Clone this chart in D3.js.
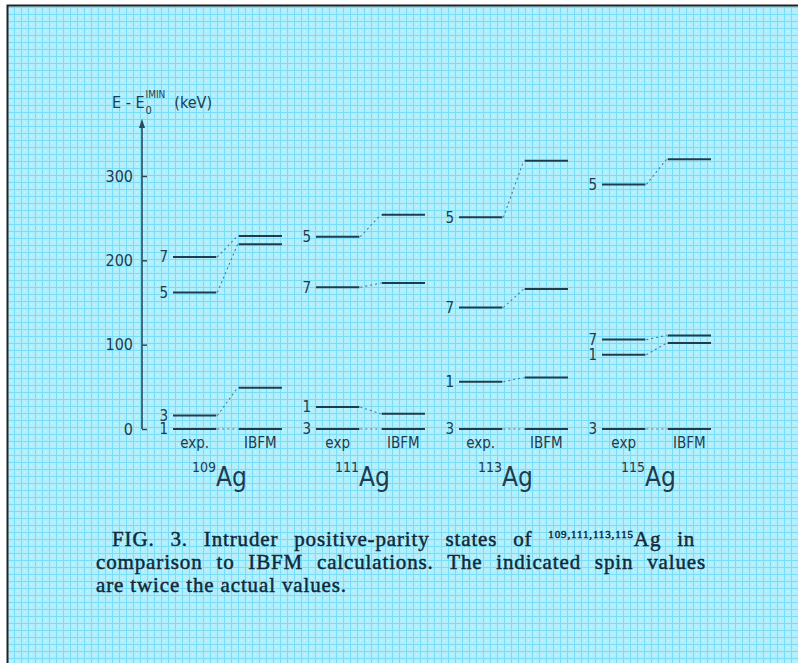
<!DOCTYPE html>
<html>
<head>
<meta charset="utf-8">
<script src="https://cdn.jsdelivr.net/npm/d3@7"></script>
<style>
  html, body { margin: 0; padding: 0; background: #fff; }
  svg { display: block; }
  .lbl { font-family: "DejaVu Sans Condensed", "Liberation Sans Narrow", "DejaVu Sans", sans-serif; fill: #1d3d4e; }
  .cap { font-family: "Liberation Serif", "DejaVu Serif", serif; fill: #10293a; stroke: #10293a; stroke-width: 0.45; }
</style>
</head>
<body>
<svg width="798" height="663"></svg>
<script>
// energies (keV), order of spins below
let isotopes = ["109", "111", "113", "115"];
let spins = [1, 3, 5, 7];
let exp109 = [0, 16, 162, 204];
let ibfm109 = [0, 49, 219, 229];
let exp111 = [26, 0, 228, 168];
let ibfm111 = [18, 0, 254, 173];
let exp113 = [56, 0, 251, 144];
let ibfm113 = [61, 0, 318, 166];
let exp115 = [88, 0, 290, 106];
let ibfm115 = [102, 0, 320, 111];
let expNames = ["exp.", "exp", "exp.", "exp"];
let yTicks = [0, 100, 200, 300];

let expAll = [exp109, exp111, exp113, exp115];
let ibfmAll = [ibfm109, ibfm111, ibfm113, ibfm115];

let svg = d3.select("svg");

// scanned paper background
let defs = svg.append("defs");
let pat = defs.append("pattern")
    .attr("id", "paper")
    .attr("width", 7).attr("height", 7)
    .attr("patternUnits", "userSpaceOnUse");
pat.append("rect").attr("width", 7).attr("height", 7).attr("fill", "#b2effd");
pat.append("rect").attr("width", 7).attr("height", 1).attr("fill", "#7adcf6");
pat.append("rect").attr("width", 1).attr("height", 7).attr("fill", "#7adcf6");
pat.append("rect").attr("x", 3).attr("y", 3).attr("width", 1).attr("height", 1).attr("fill", "#d8f8ff");

svg.append("rect")
    .attr("x", 7).attr("y", 5)
    .attr("width", 791).attr("height", 658)
    .attr("fill", "url(#paper)");
svg.append("path")
    .attr("d", "M7.5,663 V5.5 H798")
    .attr("fill", "none")
    .attr("stroke", "#222")
    .attr("stroke-width", 2);

let y = d3.scaleLinear().domain([0, 300]).range([429, 176]);

let x = d3.scaleBand()
    .domain(isotopes)
    .range([173, 711])
    .paddingInner(0.238)
    .paddingOuter(0);

let xi = d3.scaleBand()
    .domain(["exp", "IBFM"])
    .range([0, x.bandwidth()])
    .paddingInner(0.34);

// y axis
let axisX = 142;
let g = svg.append("g").attr("transform", "translate(" + axisX + ",0)");
g.call(d3.axisLeft(y).tickValues(yTicks).tickSizeInner(-5).tickSizeOuter(0).tickPadding(9))
    .call(a => a.select(".domain").remove())
    .call(a => a.selectAll(".tick line").attr("stroke", "#2a4a5a").attr("stroke-width", 1.5))
    .call(a => a.selectAll(".tick text")
        .attr("class", "lbl")
        .style("font-size", "16px")
        .attr("fill", "#1d3d4e"));
g.attr("font-family", null).attr("font-size", null);

g.append("line")
    .attr("x1", 0).attr("x2", 0)
    .attr("y1", y(0)).attr("y2", y(358))
    .attr("stroke", "#2a4a5a")
    .attr("stroke-width", 1.6);
g.append("path")
    .attr("d", "M-3," + (y(358) + 1) + " L0," + (y(368)) + " L3," + (y(358) + 1) + " Z")
    .attr("fill", "#2a4a5a");

// axis title  E - E0^IMIN (keV)
let t = svg.append("g").attr("class", "lbl");
let t1 = t.append("text").attr("x", 112).attr("y", 108).style("font-size", "16px").text("E - E");
let w1 = t1.node().getComputedTextLength();
t.append("text").attr("x", 113 + w1).attr("y", 114).style("font-size", "11px").text("0");
let t3 = t.append("text").attr("x", 113 + w1).attr("y", 98).style("font-size", "10px").text("IMIN");
let w3 = t3.node().getComputedTextLength();
t.append("text").attr("x", 122 + w1 + w3).attr("y", 108).style("font-size", "16px").text("(keV)");

// levels
isotopes.forEach((iso, k) => {
    let gx = svg.append("g").attr("transform", "translate(" + x(iso) + ",0)");
    let ex0 = xi("exp"), ex1 = ex0 + xi.bandwidth();
    let ib0 = xi("IBFM"), ib1 = ib0 + xi.bandwidth();
    let rows = spins.map((s, i) => ({ spin: s, e: expAll[k][i], c: ibfmAll[k][i] }));

    gx.selectAll(".conn")
        .data(rows)
        .enter().append("line")
        .attr("x1", ex1 + 1).attr("x2", ib0 - 1)
        .attr("y1", d => y(d.e)).attr("y2", d => y(d.c))
        .attr("stroke", "#5a7684")
        .attr("stroke-width", 1.1)
        .attr("stroke-dasharray", "2,3");

    gx.selectAll(".expl")
        .data(rows)
        .enter().append("line")
        .attr("x1", ex0).attr("x2", ex1)
        .attr("y1", d => y(d.e)).attr("y2", d => y(d.e))
        .attr("stroke", "#1d3d4e")
        .attr("stroke-width", 2);

    gx.selectAll(".ibl")
        .data(rows)
        .enter().append("line")
        .attr("x1", ib0).attr("x2", ib1)
        .attr("y1", d => y(d.c)).attr("y2", d => y(d.c))
        .attr("stroke", "#1d3d4e")
        .attr("stroke-width", 2);

    gx.selectAll(".spin")
        .data(rows)
        .enter().append("text")
        .attr("class", "lbl")
        .attr("x", ex0 - 5)
        .attr("y", d => y(d.e))
        .attr("dy", "0.36em")
        .attr("text-anchor", "end")
        .style("font-size", "15px")
        .text(d => d.spin);

    gx.append("text")
        .attr("class", "lbl")
        .attr("x", ex0 + xi.bandwidth() / 2)
        .attr("y", 448)
        .attr("text-anchor", "middle")
        .style("font-size", "15px")
        .text(expNames[k]);

    gx.append("text")
        .attr("class", "lbl")
        .attr("x", ib0 + xi.bandwidth() / 2)
        .attr("y", 448)
        .attr("text-anchor", "middle")
        .style("font-size", "15px")
        .text("IBFM");

    let nm = gx.append("text").attr("class", "lbl").attr("x", 19).attr("y", 486);
    nm.append("tspan").attr("dy", -14).style("font-size", "14px").text(iso);
    nm.append("tspan").attr("dy", 14).style("font-size", "26px").text("Ag");
});

// caption: letter spacing taken from the last line, first two lines justified
let capLines = [
    { x: 112, y: 546, right: 705, parts: [["FIG. 3.  Intruder positive-parity states of ", false], ["109,111,113,115", true], ["Ag in", false]] },
    { x: 96, y: 569, right: 706, parts: [["comparison to IBFM calculations. The indicated spin values", false]] },
    { x: 96, y: 592, right: 346, parts: [["are twice the actual values.", false]] }
];
let capTexts = capLines.map(L => {
    let tx = svg.append("text")
        .attr("class", "cap")
        .attr("x", L.x).attr("y", L.y)
        .style("font-size", "21px");
    L.parts.forEach((p, i) => {
        let ts = tx.append("tspan").text(p[0]);
        if (p[1]) ts.style("font-size", "11px").attr("dy", -8);
        else if (i > 0) ts.attr("dy", 8);
    });
    return tx;
});
let last = capLines[2], lastT = capTexts[2];
let lastLen = lastT.node().getComputedTextLength();
let ls = Math.max(0, (last.right - last.x - lastLen) / (last.parts[0][0].length - 1));
capTexts.forEach((tx, i) => {
    tx.attr("letter-spacing", ls);
    let L = capLines[i];
    if (i < 2) {
        let len = tx.node().getComputedTextLength();
        let spaces = L.parts.filter(p => !p[1]).map(p => p[0]).join("").split(" ").length - 1;
        let ws = ((L.right - L.x) - len) / spaces;
        if (ws > 0) tx.attr("word-spacing", ws);
    }
});
</script>
</body>
</html>
